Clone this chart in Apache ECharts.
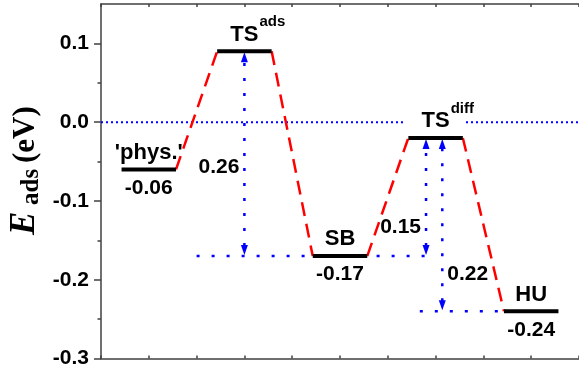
<!DOCTYPE html>
<html><head><meta charset="utf-8">
<script src="https://cdn.jsdelivr.net/npm/echarts@6/dist/echarts.min.js"></script>
<style>html,body{margin:0;padding:0;background:#fff}#c{width:579px;height:372px}</style>
</head><body><div id="c"></div>
<script>
// ---- data ----
const levelNames = ["'phys.'", 'TS', 'SB', 'TS', 'HU'];
const levelSups = ['', 'ads', '', 'diff', ''];
const levelX = [1, 3, 5, 7, 9];
const levelE = [-0.06, 0.09, -0.17, -0.02, -0.24];
const levelValueLabels = ['-0.06', '', '-0.17', '', '-0.24'];

const barrierLabels = ['0.26', '0.15', '0.22'];
const barrierX = [3, 6.8, 7.14];
const barrierFrom = [-0.17, -0.17, -0.24];
const barrierTo = [0.09, -0.02, -0.02];
const barrierLabelE = [-0.057, -0.133, -0.193];
const barrierLabelSide = ['left', 'left', 'right'];

const refLineE = [0, -0.17, -0.24];
const refLineFrom = [0, 2, 6.67];
const refLineTo = [10, 7, 8.43];

const yTickValues = [-0.3, -0.2, -0.1, 0, 0.1];
const yTickLabels = ['-0.3', '-0.2', '-0.1', '0.0', '0.1'];
const yMinorTickValues = [-0.25, -0.15, -0.05, 0.05];

// ---- rendering ----
const HW = 0.57;
const FONT = '"Liberation Sans", Arial, sans-serif';
const SERIF = '"Liberation Serif", "Times New Roman", serif';
const measureCtx = document.createElement('canvas').getContext('2d');
function textWidth(t, font) { measureCtx.font = font; return measureCtx.measureText(t).width; }
const axisCol = '#404040';
const axisLS = { color: axisCol, width: 1.5 };
const BLUE = '#0000ff', RED = '#ff0000';

function xAxisDef(pos) {
  return {
    type: 'value', min: 0, max: 10, interval: 1, position: pos,
    axisLine: { show: true, onZero: false, lineStyle: axisLS },
    axisTick: { show: true, inside: true, length: 3, lineStyle: axisLS },
    axisLabel: { show: false }, splitLine: { show: false }
  };
}

const chart = echarts.init(document.getElementById('c'), null, { renderer: 'canvas' });
const option = {
  animation: false,
  backgroundColor: '#fff',
  grid: { left: 101, right: -5, top: 4, bottom: 13.5 },
  xAxis: [xAxisDef('bottom'), xAxisDef('top')],
  yAxis: [
    {
      type: 'value', min: -0.3, max: 0.15, position: 'left',
      axisLine: { show: true, onZero: false, lineStyle: axisLS },
      axisTick: { show: true, customValues: yTickValues, length: 7, lineStyle: axisLS },
      axisLabel: {
        customValues: yTickValues, margin: 12, color: '#000',
        fontFamily: FONT, fontWeight: 'bold', fontSize: 21,
        formatter: v => yTickLabels[yTickValues.findIndex(t => Math.abs(t - v) < 1e-9)]
      },
      splitLine: { show: false }
    },
    {
      type: 'value', min: -0.3, max: 0.15, position: 'left',
      axisLine: { show: false, onZero: false },
      axisTick: { show: true, customValues: yMinorTickValues, length: 3.5, lineStyle: axisLS },
      axisLabel: { show: false }, splitLine: { show: false }
    }
  ],
  graphic: [{
    type: 'group', x: 37, y: 171, rotation: Math.PI / 2,
    children: [
      { type: 'text', x: -64, y: -12, style: { text: 'E', font: 'italic bold 35px ' + SERIF, fill: '#000', textAlign: 'left', textVerticalAlign: 'middle' } },
      { type: 'text', x: -34, y: -5.5, style: { text: 'ads', font: 'bold 25px ' + SERIF, fill: '#000', textAlign: 'left', textVerticalAlign: 'middle' } },
      { type: 'text', x: 8, y: -11, style: { text: '(eV)', font: 'bold 31px ' + SERIF, fill: '#000', textAlign: 'left', textVerticalAlign: 'middle' } }
    ]
  }],
  series: [
    {
      type: 'custom', name: 'ref', z: 1,
      data: refLineE.map((e, i) => [refLineFrom[i], e, refLineTo[i]]),
      encode: { x: [0, 2], y: 1 },
      renderItem(params, api) {
        const i = params.dataIndex;
        const p1 = api.coord([refLineFrom[i], refLineE[i]]);
        const p2 = api.coord([refLineTo[i], refLineE[i]]);
        return {
          type: 'line', shape: { x1: p1[0], y1: p1[1], x2: p2[0], y2: p2[1] },
          style: { stroke: BLUE, lineWidth: i === 0 ? 2 : 2.5, lineDash: i === 0 ? [2, 3] : [3, 12] }
        };
      }
    },
    {
      type: 'custom', name: 'barriers', z: 2,
      data: barrierX.map((x, i) => [x, barrierFrom[i], barrierTo[i]]),
      encode: { x: 0, y: [1, 2] },
      renderItem(params, api) {
        const i = params.dataIndex;
        const pb = api.coord([barrierX[i], barrierFrom[i]]);
        const pt = api.coord([barrierX[i], barrierTo[i]]);
        const x = pb[0], L = 10, W = 3.5;
        const pl = api.coord([barrierX[i], barrierLabelE[i]]);
        const right = barrierLabelSide[i] === 'left';
        return {
          type: 'group', children: [
            { type: 'line', shape: { x1: x, y1: pb[1] - L, x2: x, y2: pt[1] + L }, style: { stroke: BLUE, lineWidth: 2.5, lineDash: [3, 12] } },
            { type: 'polygon', shape: { points: [[x, pt[1] + 1], [x - W, pt[1] + L + 1], [x + W, pt[1] + L + 1]] }, style: { fill: BLUE } },
            { type: 'polygon', shape: { points: [[x, pb[1] - 1], [x - W, pb[1] - L - 1], [x + W, pb[1] - L - 1]] }, style: { fill: BLUE } },
            { type: 'text', x: right ? x - 5 : x + 5, y: pl[1], style: { text: barrierLabels[i], font: 'bold 21px ' + FONT, fill: '#000', textAlign: right ? 'right' : 'left', textVerticalAlign: 'middle' } }
          ]
        };
      }
    },
    {
      type: 'custom', name: 'connectors', z: 3,
      data: levelX.slice(0, -1).map((x, i) => [x + HW, levelE[i], levelX[i + 1] - HW, levelE[i + 1]]),
      encode: { x: [0, 2], y: [1, 3] },
      renderItem(params, api) {
        const i = params.dataIndex;
        const a = api.coord([levelX[i] + HW, levelE[i]]);
        const b = api.coord([levelX[i + 1] - HW, levelE[i + 1]]);
        return { type: 'line', shape: { x1: a[0], y1: a[1], x2: b[0], y2: b[1] }, style: { stroke: RED, lineWidth: 2.5, lineDash: [14, 8] } };
      }
    },
    {
      type: 'custom', name: 'levels', z: 5,
      data: levelX.map((x, i) => [x, levelE[i]]),
      encode: { x: 0, y: 1 },
      renderItem(params, api) {
        const i = params.dataIndex;
        const pL = api.coord([levelX[i] - HW, levelE[i]]);
        const pR = api.coord([levelX[i] + HW, levelE[i]]);
        const cx = (pL[0] + pR[0]) / 2, y = pL[1];
        const nameFont = 'bold 22px ' + FONT;
        const nameBase = y - 9;
        const children = [];
        if (levelSups[i] === 'diff') {
          children.push({ type: 'rect', shape: { x: cx - 30, y: nameBase - 17, width: 58, height: 17 }, style: { fill: '#fff' } });
        }
        children.push({ type: 'line', shape: { x1: pL[0], y1: y, x2: pR[0], y2: y }, style: { stroke: '#000', lineWidth: 4 } });
        children.push({ type: 'text', x: cx, y: nameBase - 0.35 * 22, style: { text: levelNames[i], font: nameFont, fill: '#000', textAlign: 'center', textVerticalAlign: 'middle' } });
        if (levelSups[i]) {
          const w = textWidth(levelNames[i], nameFont);
          children.push({ type: 'text', x: cx + w / 2 + 1, y: nameBase - 15 - 0.35 * 15, style: { text: levelSups[i], font: 'bold 15px ' + FONT, fill: '#000', textAlign: 'left', textVerticalAlign: 'middle' } });
        }
        if (levelValueLabels[i]) {
          children.push({ type: 'text', x: cx, y: y + 18.5, style: { text: levelValueLabels[i], font: 'bold 21px ' + FONT, fill: '#000', textAlign: 'center', textVerticalAlign: 'middle' } });
        }
        return { type: 'group', children };
      }
    }
  ]
};
chart.setOption(option);
</script>
</body></html>
